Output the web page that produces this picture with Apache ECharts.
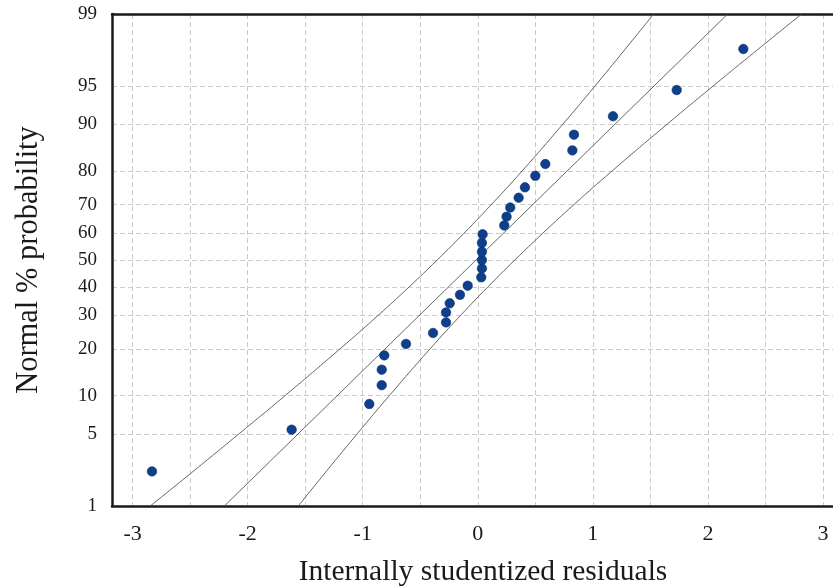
<!DOCTYPE html>
<html>
<head>
<meta charset="utf-8">
<script src="https://cdn.jsdelivr.net/npm/echarts@6/dist/echarts.min.js"></script>
<style>
html,body{margin:0;padding:0;background:#fff;}
#chart{width:833px;height:586px;}
</style>
</head>
<body>
<div id="chart"></div>
<script>
// ---- data ----
const yTickPercents = [1, 5, 10, 20, 30, 40, 50, 60, 70, 80, 90, 95, 99];
const xTickLabels = [-3, -2, -1, 0, 1, 2, 3];
const xGridValues = [-3, -2.5, -2, -1.5, -1, -0.5, 0, 0.5, 1, 1.5, 2, 2.5, 3];

const residuals = [-2.832, -1.618, -0.943, -0.835, -0.835, -0.813, -0.624, -0.389, -0.276, -0.276,
  -0.244, -0.155, -0.088, 0.030, 0.036, 0.036, 0.036, 0.036, 0.042, 0.230,
  0.250, 0.282, 0.355, 0.410, 0.500, 0.587, 0.822, 0.836, 1.175, 1.729, 2.308];
const probabilities = [2.28, 5.43, 8.66, 11.82, 14.98, 18.35, 21.36, 24.5, 27.76, 31.0,
  34.1, 37.1, 40.4, 43.5, 46.8, 50.0, 53.1, 56.4, 59.6, 62.8,
  65.9, 69.0, 72.2, 75.4, 78.7, 81.8, 85.0, 88.2, 91.3, 94.6, 97.7];

const centerLineP = [1, 99];
const centerLineX = [-2.203, 2.172];

const bandP = [1, 2, 5, 10, 20, 30, 40, 50, 60, 70, 80, 90, 95, 98, 99];
const leftBandX = [-2.847, -2.536, -2.077, -1.674, -1.199, -0.867, -0.596, -0.353, -0.120, 0.118, 0.385, 0.737, 1.018, 1.326, 1.529];
const rightBandX = [-1.560, -1.358, -1.049, -0.768, -0.416, -0.150, 0.089, 0.322, 0.565, 0.836, 1.167, 1.643, 2.045, 2.505, 2.815];

// ---- normal probability scale (probit) ----
function probit(pct) {
  const p = pct / 100;
  const a = [-3.969683028665376e+01, 2.209460984245205e+02, -2.759285104469687e+02, 1.383577518672690e+02, -3.066479806614716e+01, 2.506628277459239e+00];
  const b = [-5.447609879822406e+01, 1.615858368580409e+02, -1.556989798598866e+02, 6.680131188771972e+01, -1.328068155288572e+01];
  const c = [-7.784894002430293e-03, -3.223964580411365e-01, -2.400758277161838e+00, -2.549732539343734e+00, 4.374664141464968e+00, 2.938163982698783e+00];
  const d = [7.784695709041462e-03, 3.224671290700398e-01, 2.445134137142996e+00, 3.754408661907416e+00];
  const pl = 0.02425, ph = 1 - pl;
  let q, r;
  if (p < pl) {
    q = Math.sqrt(-2 * Math.log(p));
    return (((((c[0]*q+c[1])*q+c[2])*q+c[3])*q+c[4])*q+c[5]) / ((((d[0]*q+d[1])*q+d[2])*q+d[3])*q+1);
  } else if (p <= ph) {
    q = p - 0.5; r = q * q;
    return (((((a[0]*r+a[1])*r+a[2])*r+a[3])*r+a[4])*r+a[5])*q / (((((b[0]*r+b[1])*r+b[2])*r+b[3])*r+b[4])*r+1);
  } else {
    q = Math.sqrt(-2 * Math.log(1 - p));
    return -(((((c[0]*q+c[1])*q+c[2])*q+c[3])*q+c[4])*q+c[5]) / ((((d[0]*q+d[1])*q+d[2])*q+d[3])*q+1);
  }
}

const yTickZ = yTickPercents.map(probit);
const zMin = probit(1), zMax = probit(99);
const xMin = -3.1795, xMax = 3.0874;

const serif = '"Liberation Serif", "Times New Roman", serif';
const gridLine = { show: true, lineStyle: { color: '#cccccc', type: [5, 3], width: 1 } };

const chart = echarts.init(document.getElementById('chart'), null, { renderer: 'canvas' });
chart.setOption({
  animation: false,
  backgroundColor: '#ffffff',
  grid: { left: 112, top: 14, right: 0, bottom: 80, containLabel: false, outerBoundsMode: 'none' },
  xAxis: [{
    type: 'value', min: xMin, max: xMax, position: 'bottom',
    name: 'Internally studentized residuals', nameLocation: 'middle', nameGap: 51,
    nameTextStyle: { fontFamily: serif, fontSize: 29.5, color: '#1a1a1a', padding: [0, 0, 0, 21] },
    axisLine: { show: true, onZero: false, lineStyle: { color: '#1a1a1a', width: 2.5 } },
    axisTick: { show: false, customValues: xGridValues },
    axisLabel: { customValues: xTickLabels, fontFamily: serif, fontSize: 22, color: '#1a1a1a', margin: 17,
      formatter: v => String(v) },
    splitLine: gridLine
  }, {
    type: 'value', min: xMin, max: xMax, position: 'top',
    axisLine: { show: true, onZero: false, lineStyle: { color: '#1a1a1a', width: 2.5 } },
    axisTick: { show: false }, axisLabel: { show: false }, splitLine: { show: false }
  }],
  yAxis: {
    type: 'value', min: zMin, max: zMax,
    name: 'Normal % probability', nameLocation: 'middle', nameGap: 68, nameRotate: 90,
    nameTextStyle: { fontFamily: serif, fontSize: 30.5, color: '#1a1a1a' },
    axisLine: { show: true, onZero: false, lineStyle: { color: '#1a1a1a', width: 2.5 } },
    axisTick: { show: false, customValues: yTickZ },
    axisLabel: { customValues: yTickZ, fontFamily: serif, fontSize: 19, color: '#1a1a1a', margin: 15,
      formatter: v => {
        const i = yTickZ.findIndex(z => Math.abs(z - v) < 1e-6);
        return i >= 0 ? String(yTickPercents[i]) : '';
      } },
    splitLine: gridLine
  },
  series: [
    {
      type: 'line', name: 'lower', smooth: true, symbol: 'none', silent: true,
      lineStyle: { color: '#555', width: 0.9 },
      data: bandP.map((p, i) => [leftBandX[i], probit(p)])
    },
    {
      type: 'line', name: 'upper', smooth: true, symbol: 'none', silent: true,
      lineStyle: { color: '#555', width: 0.9 },
      data: bandP.map((p, i) => [rightBandX[i], probit(p)])
    },
    {
      type: 'line', name: 'center', symbol: 'none', silent: true,
      lineStyle: { color: '#555', width: 0.9 },
      data: centerLineP.map((p, i) => [centerLineX[i], probit(p)])
    },
    {
      type: 'scatter', name: 'residuals', symbol: 'circle', symbolSize: 9.5,
      itemStyle: { color: '#0d3f8c', borderColor: '#0a2f6a', borderWidth: 0.6, opacity: 1 },
      data: residuals.map((x, i) => [x, probit(probabilities[i])]),
      z: 5
    }
  ]
});
</script>
</body>
</html>
